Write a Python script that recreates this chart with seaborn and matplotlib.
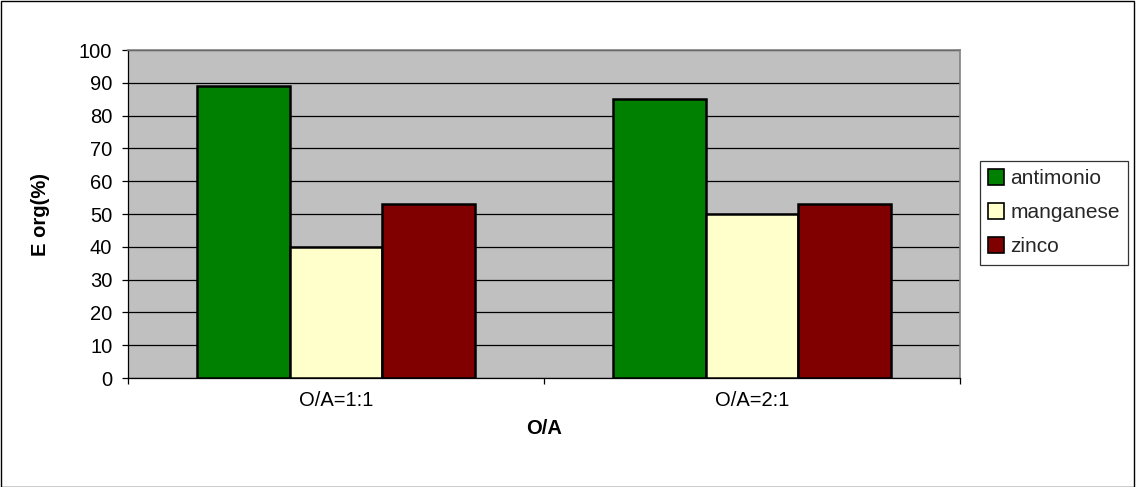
import matplotlib
matplotlib.use("Agg")
import matplotlib.pyplot as plt
import seaborn as sns
import pandas as pd
from matplotlib.patches import Rectangle

categories = ["O/A=1:1", "O/A=2:1"]
series = ["antimonio", "manganese", "zinco"]
antimonio = [89, 85]
manganese = [40, 50]
zinco = [53, 53]
colors = ["#008000", "#FFFFCC", "#800000"]

df = pd.DataFrame({
    "O/A": categories * 3,
    "metal": [s for s in series for _ in categories],
    "E": antimonio + manganese + zinco,
})

sns.set_theme(style="white")
plt.rcParams["font.family"] = ["Liberation Sans", "DejaVu Sans"]
FS = 14.5

fig = plt.figure(figsize=(11.36, 4.87), dpi=100)
fig.patch.set_facecolor("white")
fig.add_artist(Rectangle((0.0005, 0.001), 0.998, 0.997, transform=fig.transFigure,
                         fill=False, edgecolor="black", linewidth=1.0))

ax = fig.add_axes([128 / 1136, 109 / 487, 832 / 1136, 328 / 487])
ax.set_facecolor("#C0C0C0")

sns.barplot(data=df, x="O/A", y="E", hue="metal", palette=colors,
            width=0.67, gap=0, edgecolor="black", linewidth=1.8,
            saturation=1, ax=ax, zorder=3)

ax.set_ylim(0, 100)
ax.set_xlim(-0.5, 1.5)
ax.set_yticks(range(0, 101, 10))
ax.yaxis.grid(True, color="black", linewidth=0.9, zorder=1)
ax.set_axisbelow(True)

ax.tick_params(axis="y", which="major", direction="out", length=4.3, width=0.9,
               color="black", labelsize=FS, left=True, pad=7, labelcolor="black")
ax.tick_params(axis="x", which="major", length=0, labelsize=FS, pad=9,
               labelcolor="black")
ax.set_xticks([-0.5, 0.5, 1.5], minor=True)
ax.tick_params(axis="x", which="minor", direction="out", length=4.3, width=0.9,
               color="black", bottom=True)

for side in ["top", "right"]:
    ax.spines[side].set_color("#808080")
    ax.spines[side].set_linewidth(1.2)
for side in ["left", "bottom"]:
    ax.spines[side].set_color("black")
    ax.spines[side].set_linewidth(0.9)

ax.set_ylabel("E org(%)", fontsize=FS, fontweight="bold", color="black", va="center")
ax.set_xlabel("O/A", fontsize=FS, fontweight="bold", color="black", va="center")
ax.yaxis.set_label_coords((40 - 128) / 832, 0.5)
ax.xaxis.set_label_coords(0.5, (378 - 428) / 328)

leg = ax.legend(title=None, loc="upper left", bbox_to_anchor=(980 / 1136, 326 / 487),
                bbox_transform=fig.transFigure, frameon=True, fancybox=False,
                fontsize=15, handlelength=0.75, handleheight=0.75,
                handletextpad=0.3, labelspacing=0.72, borderpad=0.4,
                borderaxespad=0)
leg.get_frame().set_edgecolor("black")
leg.get_frame().set_linewidth(0.9)
for h in leg.legend_handles:
    h.set_edgecolor("black")
    h.set_linewidth(1.2)

fig.savefig("out.png", dpi=100)
